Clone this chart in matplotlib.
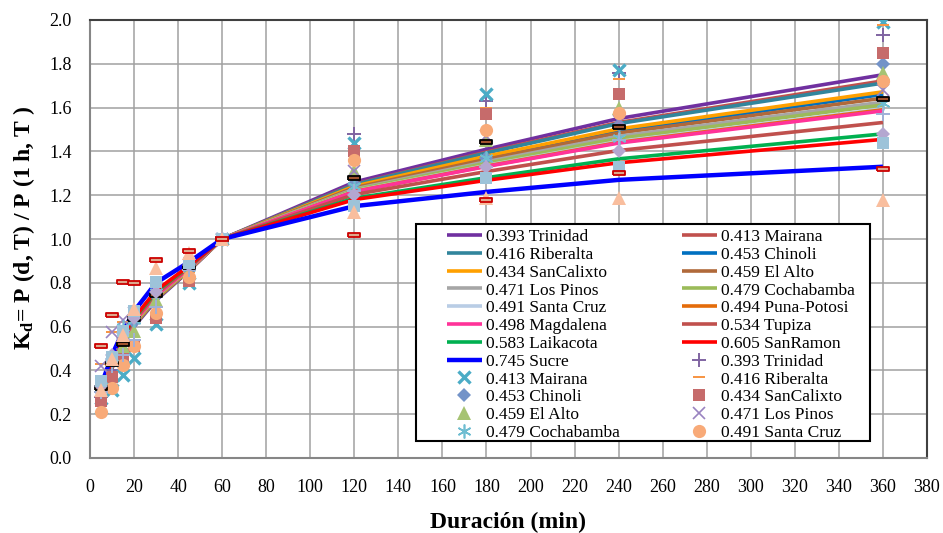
import matplotlib
matplotlib.use("Agg")
import matplotlib.pyplot as plt
from matplotlib.patches import Rectangle
import numpy as np

plt.rcParams['font.family'] = ['Liberation Serif', 'DejaVu Serif']
plt.rcParams['mathtext.fontset'] = 'custom'
plt.rcParams['mathtext.rm'] = 'Liberation Serif'
plt.rcParams['mathtext.bf'] = 'Liberation Serif:bold'
plt.rcParams['mathtext.it'] = 'Liberation Serif:italic'

durations = [5, 10, 15, 20, 30, 45, 60, 120, 180, 240, 360]

stations = ["0.393 Trinidad", "0.413 Mairana", "0.416 Riberalta", "0.453 Chinoli",
            "0.434 SanCalixto", "0.459 El Alto", "0.471 Los Pinos", "0.479 Cochabamba",
            "0.491 Santa Cruz", "0.494 Puna-Potosi", "0.498 Magdalena", "0.534 Tupiza",
            "0.583 Laikacota", "0.605 SanRamon", "0.745 Sucre"]

# fitted curves (lines)
fit_trinidad   = [0.270, 0.410, 0.520, 0.600, 0.720, 0.855, 1.0, 1.260, 1.410, 1.550, 1.750]
fit_mairana    = [0.274, 0.414, 0.524, 0.604, 0.724, 0.857, 1.0, 1.250, 1.397, 1.532, 1.722]
fit_riberalta  = [0.275, 0.415, 0.525, 0.605, 0.725, 0.858, 1.0, 1.248, 1.393, 1.527, 1.712]
fit_chinoli    = [0.280, 0.420, 0.530, 0.610, 0.730, 0.860, 1.0, 1.238, 1.372, 1.495, 1.660]
fit_sancalixto = [0.278, 0.418, 0.528, 0.608, 0.728, 0.859, 1.0, 1.241, 1.378, 1.503, 1.672]
fit_elalto     = [0.282, 0.422, 0.532, 0.612, 0.732, 0.861, 1.0, 1.234, 1.364, 1.484, 1.643]
fit_lospinos   = [0.285, 0.425, 0.535, 0.615, 0.735, 0.863, 1.0, 1.228, 1.353, 1.469, 1.625]
fit_cochabamba = [0.287, 0.427, 0.537, 0.617, 0.737, 0.864, 1.0, 1.224, 1.346, 1.459, 1.612]
fit_santacruz  = [0.290, 0.430, 0.540, 0.620, 0.740, 0.865, 1.0, 1.219, 1.336, 1.445, 1.594]
fit_puna       = [0.291, 0.431, 0.541, 0.621, 0.741, 0.866, 1.0, 1.217, 1.333, 1.441, 1.590]
fit_magdalena  = [0.292, 0.432, 0.542, 0.622, 0.742, 0.866, 1.0, 1.216, 1.331, 1.438, 1.585]
fit_tupiza     = [0.298, 0.438, 0.548, 0.628, 0.750, 0.870, 1.0, 1.203, 1.308, 1.404, 1.532]
fit_laikacota  = [0.306, 0.446, 0.556, 0.636, 0.760, 0.876, 1.0, 1.186, 1.280, 1.366, 1.480]
fit_sanramon   = [0.310, 0.450, 0.560, 0.640, 0.765, 0.878, 1.0, 1.180, 1.268, 1.348, 1.455]
fit_sucre      = [0.330, 0.470, 0.580, 0.670, 0.800, 0.895, 1.0, 1.150, 1.215, 1.270, 1.330]

# observed ratios (markers)
obs_trinidad   = [0.28, 0.40, 0.50, 0.54, 0.69, 0.86, 1.0, 1.48, 1.63, 1.76, 1.93]
obs_mairana    = [0.23, 0.31, 0.38, 0.455, 0.61, 0.80, 1.0, 1.44, 1.66, 1.77, 1.99]
obs_riberalta  = [0.43, 0.575, 0.62, 0.66, 0.74, 0.85, 1.0, 1.40, 1.60, 1.73, 1.975]
obs_chinoli    = [0.30, 0.45, 0.55, 0.62, 0.74, 0.86, 1.0, 1.25, 1.37, 1.52, 1.80]
obs_sancalixto = [0.26, 0.37, 0.45, 0.51, 0.64, 0.81, 1.0, 1.40, 1.57, 1.66, 1.85]
obs_elalto     = [0.33, 0.45, 0.51, 0.58, 0.72, 0.85, 1.0, 1.31, 1.45, 1.60, 1.76]
obs_lospinos   = [0.42, 0.575, 0.63, 0.66, 0.77, 0.88, 1.0, 1.31, 1.47, 1.54, 1.68]
obs_cochabamba = [0.33, 0.46, 0.60, 0.63, 0.76, 0.87, 1.0, 1.24, 1.37, 1.46, 1.62]
obs_santacruz  = [0.21, 0.32, 0.425, 0.51, 0.66, 0.825, 1.0, 1.36, 1.50, 1.575, 1.72]
obs_puna       = [0.30, 0.42, 0.47, 0.54, 0.69, 0.86, 1.0, 1.22, 1.33, 1.45, 1.57]
obs_magdalena  = [0.32, 0.43, 0.52, 0.633, 0.745, 0.87, 1.0, 1.28, 1.445, 1.51, 1.64]
obs_tupiza     = [0.33, 0.47, 0.57, 0.64, 0.76, 0.88, 1.0, 1.20, 1.33, 1.40, 1.48]
obs_laikacota  = [0.35, 0.46, 0.58, 0.67, 0.805, 0.89, 1.0, 1.15, 1.28, 1.33, 1.44]
obs_sanramon   = [0.31, 0.45, 0.56, 0.68, 0.866, 0.935, 1.0, 1.125, 1.186, 1.186, 1.18]
obs_sucre      = [0.51, 0.655, 0.805, 0.80, 0.905, 0.945, 1.0, 1.02, 1.18, 1.30, 1.32]

fits = [fit_trinidad, fit_mairana, fit_riberalta, fit_chinoli, fit_sancalixto, fit_elalto,
        fit_lospinos, fit_cochabamba, fit_santacruz, fit_puna, fit_magdalena, fit_tupiza,
        fit_laikacota, fit_sanramon, fit_sucre]
obs = [obs_trinidad, obs_mairana, obs_riberalta, obs_chinoli, obs_sancalixto, obs_elalto,
       obs_lospinos, obs_cochabamba, obs_santacruz, obs_puna, obs_magdalena, obs_tupiza,
       obs_laikacota, obs_sanramon, obs_sucre]

line_colors = ['#7030A0', '#C0504D', '#31859C', '#0070C0', '#FFA000', '#B0693A',
               '#A6A6A6', '#9BBB59', '#B9CDE5', '#E46C0A', '#FF3399', '#C0504D',
               '#00B050', '#FF0000', '#0000FF']

dash = [(-1, -0.3), (1, -0.3), (1, 0.3), (-1, 0.3), (-1, -0.3)]
thin_dash = [(-1, -0.2), (1, -0.2), (1, 0.2), (-1, 0.2), (-1, -0.2)]
marker_styles = [
    dict(marker='+', color='#8064A2', ms=10, mew=1.4),
    dict(marker='x', color='#4BACC6', ms=9, mew=2.4),
    dict(marker=thin_dash, color='#F79646', ms=8, mew=0),
    dict(marker='D', color='#7393C8', ms=7.5, mew=0),
    dict(marker='s', color='#C66B6B', ms=9, mew=0),
    dict(marker='^', color='#A6C373', ms=10, mew=0),
    dict(marker='x', color='#9983C0', ms=9, mew=1.2),
    dict(marker=(6, 2, 0), color='#6FBDD1', ms=10, mew=1.2),
    dict(marker='o', color='#F8AA78', ms=9.5, mew=0),
    dict(marker='+', color='#A0B0D8', ms=10, mew=1.4),
    dict(marker=dash, color='#A0522D', ms=9, mew=1.3, mec='black'),
    dict(marker='D', color='#B4A7D0', ms=7.5, mew=0),
    dict(marker='s', color='#9DC3D9', ms=9, mew=0),
    dict(marker='^', color='#F9BE9E', ms=10, mew=0),
    dict(marker=dash, color='#DDA88C', ms=9, mew=1.3, mec='#CC0000'),
]

fig = plt.figure(figsize=(9.43, 5.33), dpi=100)
ax = fig.add_axes([90 / 943, 1 - 458 / 533, 837 / 943, 438 / 533])

line_handles = []
for i, name in enumerate(stations):
    lw = 3.2 if i == 14 else 2.6
    h, = ax.plot(durations, fits[i], color=line_colors[i], lw=lw, label=name, zorder=3,
                 solid_capstyle='butt')
    line_handles.append(h)

marker_handles = []
for i, name in enumerate(stations):
    st = dict(marker_styles[i])
    col = st.pop('color')
    mec = st.pop('mec', col)
    h, = ax.plot(durations, obs[i], linestyle='none', markerfacecolor=col,
                 markeredgecolor=mec, label=name, zorder=4 + i * 0.01, **st)
    marker_handles.append(h)

ax.set_xlim(0, 380)
ax.set_ylim(0, 2.0)
ax.set_xticks(np.arange(0, 381, 20))
ax.set_yticks(np.arange(0, 2.01, 0.2))
ax.set_yticklabels([f"{v:.1f}" for v in np.arange(0, 2.01, 0.2)])
ax.grid(True, color='#A0A0A0', lw=1.1)
ax.set_axisbelow(True)
ax.tick_params(axis='both', length=0, labelsize=13)
ax.tick_params(axis='x', pad=15)
ax.tick_params(axis='y', pad=13)
for s in ['left', 'bottom']:
    ax.spines[s].set_color('#868686')
    ax.spines[s].set_linewidth(1.5)
for s in ['top', 'right']:
    ax.spines[s].set_color('#404040')
    ax.spines[s].set_linewidth(1.5)

ax.set_xlabel('Duración (min)', fontsize=17, fontweight='bold')
ax.xaxis.set_label_coords(0.5, -0.122)
ax.set_ylabel(r'$\mathbf{K_{d}}$= P (d, T) / P (1 h, T )', fontsize=17,
              fontweight='bold')
ax.yaxis.set_label_coords(-0.063, 0.525)

# legend frame
frame = Rectangle((416 / 943, 1 - 441 / 533), 454 / 943, 217 / 533,
                  transform=fig.transFigure, facecolor='white', edgecolor='black',
                  lw=1.5, zorder=9, clip_on=False)
ax.add_patch(frame)

items = line_handles + marker_handles[:9]
labels = [h.get_label() for h in items]
order = list(range(0, 24, 2)) + list(range(1, 24, 2))
leg = ax.legend([items[k] for k in order], [labels[k] for k in order], ncol=2,
                loc='upper left', bbox_to_anchor=(447 / 943, 1 - 229 / 533),
                bbox_transform=fig.transFigure, borderaxespad=0, borderpad=0,
                fontsize=12.5, labelspacing=0.095, handlelength=2.0,
                handletextpad=0.23, columnspacing=3.6, frameon=False)
leg.set_zorder(10)

fig.savefig('out.png', dpi=100)
